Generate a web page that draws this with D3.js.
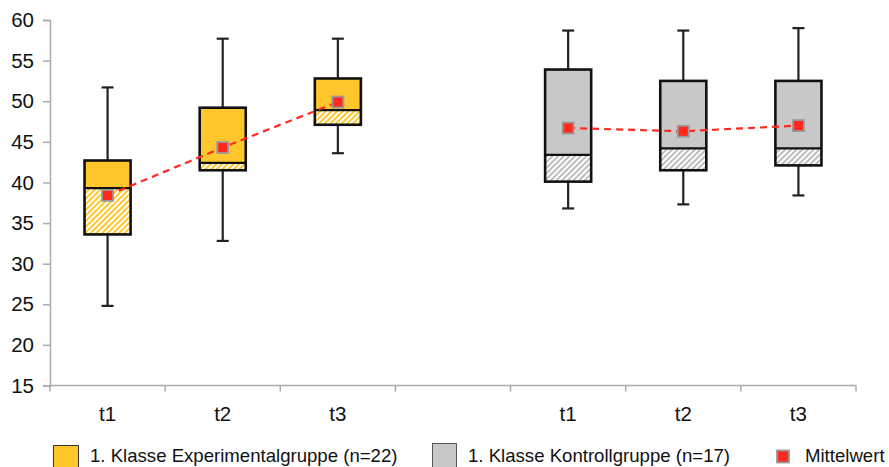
<!DOCTYPE html>
<html>
<head>
<meta charset="utf-8">
<script src="https://cdn.jsdelivr.net/npm/d3@7"></script>
<style>
  html, body { margin: 0; padding: 0; background: #fff; }
  svg { display: block; font-family: "Liberation Sans", Arial, sans-serif; }
</style>
</head>
<body>
<svg id="chart" width="889" height="467"></svg>
<script>
// ---- data ----
const timepoints = ["t1", "t2", "t3"];
const slots = ["E-t1", "E-t2", "E-t3", "gap", "K-t1", "K-t2", "K-t3"];
const slotLabels = ["t1", "t2", "t3", "", "t1", "t2", "t3"];
const yTicks = [15, 20, 25, 30, 35, 40, 45, 50, 55, 60];

const expMin    = [24.8, 32.8, 43.6];
const expQ1     = [33.6, 41.5, 47.1];
const expMedian = [39.3, 42.4, 48.9];
const expQ3     = [42.7, 49.2, 52.8];
const expMax    = [51.7, 57.7, 57.7];
const expMean   = [38.4, 44.3, 49.9];

const ctrlMin    = [36.8, 37.3, 38.4];
const ctrlQ1     = [40.1, 41.5, 42.1];
const ctrlMedian = [43.4, 44.2, 44.2];
const ctrlQ3     = [53.9, 52.5, 52.5];
const ctrlMax    = [58.7, 58.7, 59.0];
const ctrlMean   = [46.7, 46.3, 47.0];

const legendLabels = ["1. Klasse Experimentalgruppe (n=22)", "1. Klasse Kontrollgruppe (n=17)", "Mittelwert"];

// ---- build groups ----
const groups = [
  { key: "E", fill: "#FFC72C", hatch: "hatchE",
    rows: timepoints.map((t, i) => ({ slot: "E-" + t, min: expMin[i], q1: expQ1[i], med: expMedian[i], q3: expQ3[i], max: expMax[i], mean: expMean[i] })) },
  { key: "K", fill: "#C8C8C8", hatch: "hatchK",
    rows: timepoints.map((t, i) => ({ slot: "K-" + t, min: ctrlMin[i], q1: ctrlQ1[i], med: ctrlMedian[i], q3: ctrlQ3[i], max: ctrlMax[i], mean: ctrlMean[i] })) }
];

const svg = d3.select("#chart");
const x = d3.scaleBand().domain(slots).range([50, 856]).paddingInner(0).paddingOuter(0);
const y = d3.scaleLinear().domain([15, 60]).range([385.5, 20]);

// patterns
const defs = svg.append("defs");
function hatch(id, color) {
  const p = defs.append("pattern").attr("id", id).attr("patternUnits", "userSpaceOnUse")
    .attr("width", 4).attr("height", 4).attr("patternTransform", "rotate(45)");
  p.append("rect").attr("width", 4).attr("height", 4).attr("fill", "#fff");
  p.append("rect").attr("width", 2).attr("height", 4).attr("fill", color);
}
hatch("hatchE", "#FFC72C");
hatch("hatchK", "#BDBDBD");

// axes
const yAxis = svg.append("g").attr("transform", "translate(50,0)")
  .call(d3.axisLeft(y).tickValues(yTicks).tickSize(7).tickPadding(9));
yAxis.select(".domain").attr("stroke", "#aaa").attr("stroke-width", 1.5);
yAxis.selectAll(".tick line").attr("stroke", "#aaa").attr("stroke-width", 1.5);
yAxis.selectAll(".tick text").attr("font-size", 20.5).attr("fill", "#111")
  .attr("font-family", "Liberation Sans, Arial, sans-serif");

const xg = svg.append("g").attr("transform", "translate(0,385.5)");
xg.append("line").attr("x1", 50).attr("x2", 856).attr("stroke", "#aaa").attr("stroke-width", 1.5);
const bounds = slots.map(s => x(s)).concat([x(slots[slots.length - 1]) + x.bandwidth()]);
xg.selectAll("line.tk").data(bounds).join("line").attr("class", "tk")
  .attr("x1", d => d).attr("x2", d => d).attr("y1", 0).attr("y2", 6)
  .attr("stroke", "#aaa").attr("stroke-width", 1.5);
xg.selectAll("text").data(slots).join("text")
  .attr("x", d => x(d) + x.bandwidth() / 2).attr("y", 35)
  .attr("text-anchor", "middle").attr("font-size", 20.5).attr("fill", "#111")
  .text((d, i) => slotLabels[i]);

// boxes
const bw = x.bandwidth() * 0.4;
const capW = 12;
groups.forEach(g => {
  const gg = svg.append("g");
  g.rows.forEach(r => {
    const cx = x(r.slot) + x.bandwidth() / 2;
    // whiskers
    gg.append("line").attr("x1", cx).attr("x2", cx).attr("y1", y(r.max)).attr("y2", y(r.q3))
      .attr("stroke", "#222").attr("stroke-width", 2.2);
    gg.append("line").attr("x1", cx).attr("x2", cx).attr("y1", y(r.q1)).attr("y2", y(r.min))
      .attr("stroke", "#222").attr("stroke-width", 2.2);
    gg.append("line").attr("x1", cx - capW / 2).attr("x2", cx + capW / 2).attr("y1", y(r.max)).attr("y2", y(r.max))
      .attr("stroke", "#222").attr("stroke-width", 2.2);
    gg.append("line").attr("x1", cx - capW / 2).attr("x2", cx + capW / 2).attr("y1", y(r.min)).attr("y2", y(r.min))
      .attr("stroke", "#222").attr("stroke-width", 2.2);
    // upper part
    gg.append("rect").attr("x", cx - bw / 2).attr("width", bw)
      .attr("y", y(r.q3)).attr("height", y(r.med) - y(r.q3)).attr("fill", g.fill);
    // lower hatched part
    gg.append("rect").attr("x", cx - bw / 2).attr("width", bw)
      .attr("y", y(r.med)).attr("height", y(r.q1) - y(r.med)).attr("fill", "url(#" + g.hatch + ")");
    // outline
    gg.append("rect").attr("x", cx - bw / 2).attr("width", bw)
      .attr("y", y(r.q3)).attr("height", y(r.q1) - y(r.q3))
      .attr("fill", "none").attr("stroke", "#111").attr("stroke-width", 2.6);
    gg.append("line").attr("x1", cx - bw / 2).attr("x2", cx + bw / 2).attr("y1", y(r.med)).attr("y2", y(r.med))
      .attr("stroke", "#111").attr("stroke-width", 2.3);
  });
  // mean line
  const line = d3.line().x(r => x(r.slot) + x.bandwidth() / 2).y(r => y(r.mean));
  gg.append("path").datum(g.rows).attr("d", line).attr("fill", "none")
    .attr("stroke", "#FF2A1F").attr("stroke-width", 2.2).attr("stroke-dasharray", "7,5");
  gg.selectAll("rect.mean").data(g.rows).join("rect").attr("class", "mean")
    .attr("x", r => x(r.slot) + x.bandwidth() / 2 - 5.5).attr("y", r => y(r.mean) - 5.5)
    .attr("width", 11).attr("height", 11)
    .attr("fill", "#FF2A1F").attr("stroke", "#9a9a9a").attr("stroke-width", 1.8);
});

// legend
const lg = svg.append("g");
lg.append("rect").attr("x", 53.5).attr("y", 445.5).attr("width", 25).attr("height", 25)
  .attr("fill", "#FFC72C").attr("stroke", "#333").attr("stroke-width", 1);
lg.append("text").attr("x", 90).attr("y", 462).attr("font-size", 18.6).attr("fill", "#111").text(legendLabels[0]);
lg.append("rect").attr("x", 432.5).attr("y", 443.5).attr("width", 24).attr("height", 25)
  .attr("fill", "#C8C8C8").attr("stroke", "#555").attr("stroke-width", 1);
lg.append("text").attr("x", 468).attr("y", 462).attr("font-size", 18.6).attr("fill", "#111").text(legendLabels[1]);
lg.append("rect").attr("x", 777).attr("y", 450.5).attr("width", 12).attr("height", 12)
  .attr("fill", "#FF2A1F").attr("stroke", "#999").attr("stroke-width", 1.8);
lg.append("text").attr("x", 805).attr("y", 462).attr("font-size", 18.6).attr("fill", "#111").text(legendLabels[2]);
</script>
</body>
</html>
